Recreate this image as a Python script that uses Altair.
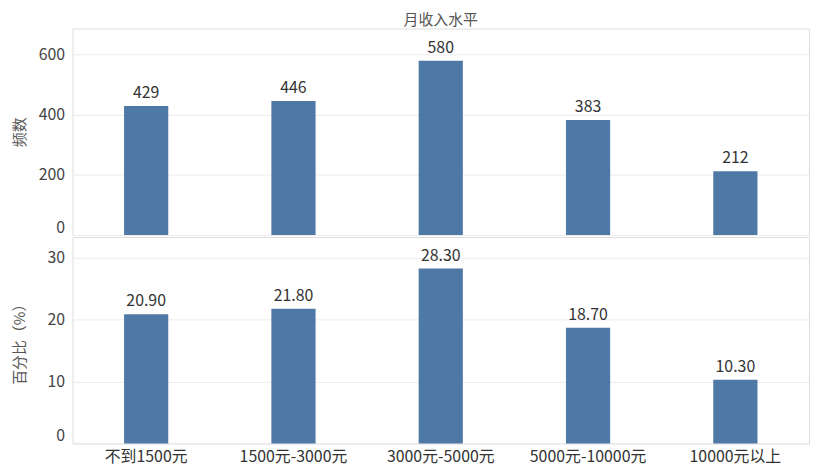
import altair as alt
import pandas as pd

categories = ["不到1500元", "1500元-3000元", "3000元-5000元", "5000元-10000元", "10000元以上"]
counts = [429, 446, 580, 383, 212]
percents = [20.90, 21.80, 28.30, 18.70, 10.30]
count_ticks = [0, 200, 400, 600]
pct_ticks = [0, 10, 20, 30]

df = pd.DataFrame({"cat": categories, "count": counts, "pct": percents})
df["pct_label"] = [f"{v:.2f}" for v in percents]

FONT = "Noto Sans CJK SC"
BAR = "#4e78a6"
W = 742
H = 208

xscale = alt.Scale(paddingInner=0.7, paddingOuter=0.35)


def yaxis(values, title):
    return alt.Axis(values=values, title=title, grid=True, gridColor="#ececec",
                    ticks=False, domain=False, labelFlush=True, labelPadding=8,
                    labelFontSize=16, labelColor="#444", labelFont=FONT,
                    titleFontSize=15, titleColor="#555", titleFont=FONT,
                    titleFontWeight="normal", titleX=-45)


top_base = alt.Chart(df).encode(
    x=alt.X("cat:N", sort=categories, title=None, scale=xscale, axis=None),
    y=alt.Y("count:Q", scale=alt.Scale(domain=[0, 687], nice=False),
            axis=yaxis(count_ticks, "频数")),
)
top = alt.layer(
    top_base.mark_bar(color=BAR),
    top_base.mark_text(dy=-8, baseline="alphabetic", fontSize=16, color="#333", font=FONT).encode(
        text=alt.Text("count:Q")),
).properties(width=W, height=H,
             title=alt.TitleParams("月收入水平", anchor="middle", frame="group", fontSize=15,
                                   fontWeight="normal", color="#555", offset=1, font=FONT))

bot_base = alt.Chart(df).encode(
    x=alt.X("cat:N", sort=categories, title=None, scale=xscale,
            axis=alt.Axis(labelAngle=0, ticks=False, domain=False, labelPadding=5,
                          labelFontSize=16, labelColor="#333", labelFont=FONT)),
    y=alt.Y("pct:Q", scale=alt.Scale(domain=[0, 33.4], nice=False),
            axis=yaxis(pct_ticks, "百分比（%）")),
)
bottom = alt.layer(
    bot_base.mark_bar(color=BAR),
    bot_base.mark_text(dy=-8, baseline="alphabetic", fontSize=16, color="#333", font=FONT).encode(
        text=alt.Text("pct_label:N")),
).properties(width=W, height=H)

chart = alt.vconcat(top, bottom, spacing=0).properties(
    padding={"left": 4, "top": 2, "right": 0, "bottom": 0}
).configure_view(stroke="#d3d3d3", strokeWidth=1).configure(font=FONT)

chart.save("out.html", embed_options={"renderer": "svg", "actions": False})
